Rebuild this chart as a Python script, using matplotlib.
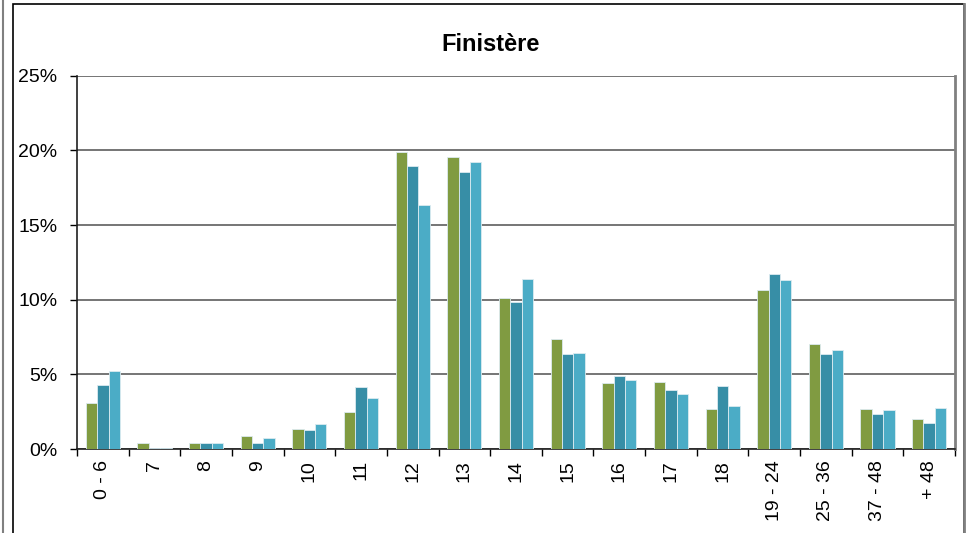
import matplotlib.pyplot as plt
import numpy as np
from matplotlib.patches import Rectangle
from matplotlib.ticker import FuncFormatter

plt.rcParams['font.family'] = ['Liberation Sans', 'DejaVu Sans']

categories = ['0 - 6', '7', '8', '9', '10', '11', '12', '13', '14', '15', '16',
              '17', '18', '19 - 24', '25 - 36', '37 - 48', '+ 48']
series_a = [3.08, 0.38, 0.38, 0.84, 1.34, 2.50, 19.89, 19.58, 10.09, 7.37, 4.40,
            4.47, 2.71, 10.63, 7.05, 2.71, 2.01]
series_b = [4.29, 0.07, 0.42, 0.40, 1.27, 4.15, 18.93, 18.58, 9.82, 6.39, 4.91,
            3.98, 4.22, 11.70, 6.38, 2.34, 1.74]
series_c = [5.22, 0.07, 0.38, 0.77, 1.70, 3.40, 16.36, 19.20, 11.41, 6.45, 4.60,
            3.66, 2.86, 11.30, 6.65, 2.64, 2.77]
colors = ['#809B41', '#378EA6', '#4BACC6']

fig = plt.figure(figsize=(9.75, 5.33), dpi=100)
ax = fig.add_axes([77 / 975, 1 - 449 / 533, (955 - 77) / 975, (449 - 75.7) / 533])

x = np.arange(len(categories))
w = 0.22
for i, (vals, c) in enumerate(zip([series_a, series_b, series_c], colors)):
    ax.bar(x + (i - 1) * w, vals, width=w, color=c, edgecolor='#DCEBF0',
           linewidth=0.6, zorder=3)

ax.set_xlim(-0.5, len(categories) - 0.5)
ax.set_ylim(0, 25)
ax.set_yticks(range(0, 26, 5))
ax.yaxis.set_major_formatter(FuncFormatter(lambda v, _: f"{v:.0f}%"))
ax.grid(axis='y', color='#5E5E5E', linewidth=1.2, zorder=0)

# category ticks between groups, labels centred under groups
ax.set_xticks(np.arange(-0.5, len(categories), 1.0))
ax.set_xticklabels([])
ax.set_xticks(x, minor=True)
ax.set_xticklabels(categories, minor=True, rotation=90, va='top', ha='center')
ax.tick_params(axis='x', which='minor', length=0, pad=8, labelsize=14)
ax.tick_params(axis='x', which='major', length=5, width=1, direction='out')
ax.tick_params(axis='y', length=5, width=1, direction='out', labelsize=14, pad=9)

for side in ['left', 'bottom']:
    ax.spines[side].set_color('#202020')
    ax.spines[side].set_linewidth(1.2)
ax.spines['top'].set_visible(False)
ax.spines['right'].set_color('#808080')
ax.spines['right'].set_linewidth(2)

fig.text(491 / 975, 1 - 45 / 533, 'Finistère', ha='center', va='center',
         fontsize=17, fontweight='bold')

# outer chart frame
fig.add_artist(Rectangle((13 / 975, -0.05), (964 - 13) / 975, 1.05 - 4 / 533,
                         transform=fig.transFigure, fill=False,
                         edgecolor='#000000', linewidth=1.2))
fig.add_artist(plt.Line2D([964 / 975, 964 / 975], [0, 1 - 4 / 533],
                          transform=fig.transFigure, color='#808080', linewidth=2))
fig.add_artist(plt.Line2D([2.5 / 975, 2.5 / 975], [0, 1],
                          transform=fig.transFigure, color='#808080', linewidth=1.5))

fig.savefig('out.png', dpi=100)
